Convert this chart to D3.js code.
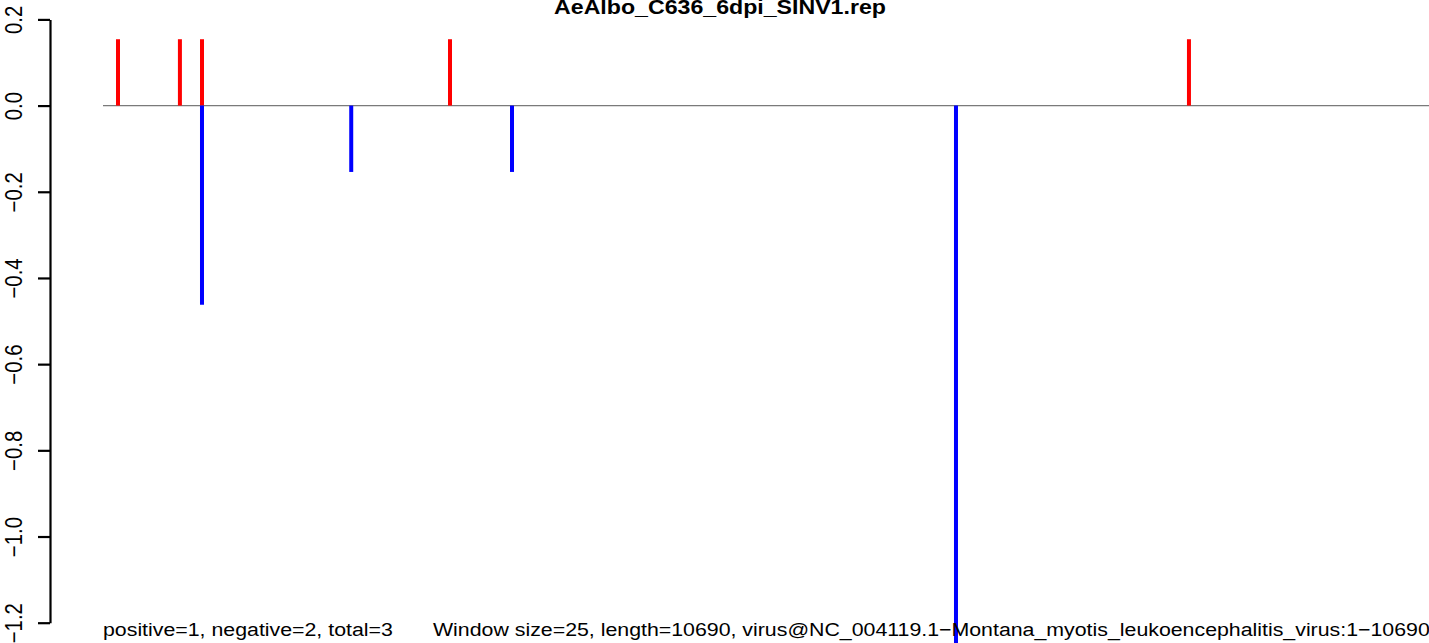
<!DOCTYPE html>
<html>
<head>
<meta charset="utf-8">
<script src="https://cdn.jsdelivr.net/npm/d3@7"></script>
<style>
  html, body { margin: 0; padding: 0; background: #fff; }
  svg { display: block; }
  text { font-family: "Liberation Sans", Arial, Helvetica, sans-serif; fill: #000; }
</style>
</head>
<body>
<svg id="chart" width="1429" height="643"></svg>
<script>
// Sequence positions (nt) and signed read-pair scores
const positivePos = [122, 621, 799, 2798, 8755];
const positiveVal = [0.154, 0.154, 0.154, 0.154, 0.154];
const negativePos = [799, 2002, 3298, 6877];
const negativeVal = [-0.462, -0.154, -0.154, -1.3];
const yTicks = [-1.2, -1.0, -0.8, -0.6, -0.4, -0.2, 0.0, 0.2];
const genomeLength = 10690;
const titleText = "AeAlbo_C636_6dpi_SINV1.rep";
const footLeft = "positive=1, negative=2, total=3";
const footRight = "Window size=25, length=10690, virus@NC_004119.1\u2212Montana_myotis_leukoencephalitis_virus:1\u221210690";

const svg = d3.select("#chart");
const W = 1429, H = 643;
const sx = 1.135; // horizontal glyph stretch
const axisX = 50;

const x = d3.scaleLinear().domain([1, genomeLength]).range([103, 1429]);
const y = d3.scaleLinear().domain([-1.2, 0.2]).range([622.7, 19.4]);

// Title
svg.append("text")
  .attr("transform", `translate(720,14) scale(${sx},1)`)
  .attr("text-anchor", "middle")
  .style("font-weight", "bold")
  .style("font-size", "20.4px")
  .text(titleText);

// Y axis
const axis = d3.axisLeft(y)
  .tickValues(yTicks)
  .tickSize(12)
  .tickSizeOuter(0)
  .tickFormat(d => d3.format(".1f")(d).replace("-", "\u2212"));

const gAxis = svg.append("g")
  .attr("class", "y-axis")
  .attr("transform", `translate(${axisX},0)`)
  .call(axis);
gAxis.select(".domain")
  .style("stroke", "#000").style("stroke-width", "2.2px");
gAxis.selectAll(".tick line")
  .style("stroke", "#000").style("stroke-width", "2.2px");
gAxis.selectAll(".tick text")
  .attr("x", null).attr("dy", null)
  .attr("text-anchor", "middle")
  .attr("transform", `translate(-28.3,0) scale(${sx},1) rotate(-90)`)
  .style("font-size", "20.4px")
  .style("font-family", "'Liberation Sans', Arial, sans-serif")
  .attr("fill", "#000");

// Zero line
svg.append("line")
  .attr("x1", x(1)).attr("x2", W + 5)
  .attr("y1", y(0)).attr("y2", y(0))
  .attr("stroke", "#7a7a7a")
  .attr("stroke-width", 1.4);

// Score bars
const bars = svg.append("g");
bars.selectAll("line.pos")
  .data(positivePos.map((p, i) => ({ p, v: positiveVal[i] })))
  .join("line")
  .attr("class", "pos")
  .attr("x1", d => x(d.p)).attr("x2", d => x(d.p))
  .attr("y1", y(0)).attr("y2", d => y(d.v))
  .attr("stroke", "#FF0000")
  .attr("stroke-width", 4);

bars.selectAll("line.neg")
  .data(negativePos.map((p, i) => ({ p, v: negativeVal[i] })))
  .join("line")
  .attr("class", "neg")
  .attr("x1", d => x(d.p)).attr("x2", d => x(d.p))
  .attr("y1", y(0)).attr("y2", d => y(d.v))
  .attr("stroke", "#0000FF")
  .attr("stroke-width", 4);

// Footer annotations
svg.append("text")
  .attr("transform", `translate(103,635.5) scale(${sx},1)`)
  .style("font-size", "18.8px")
  .text(footLeft);

svg.append("text")
  .attr("transform", `translate(433,635.5) scale(${sx},1)`)
  .style("font-size", "18.8px")
  .text(footRight);
</script>
</body>
</html>
